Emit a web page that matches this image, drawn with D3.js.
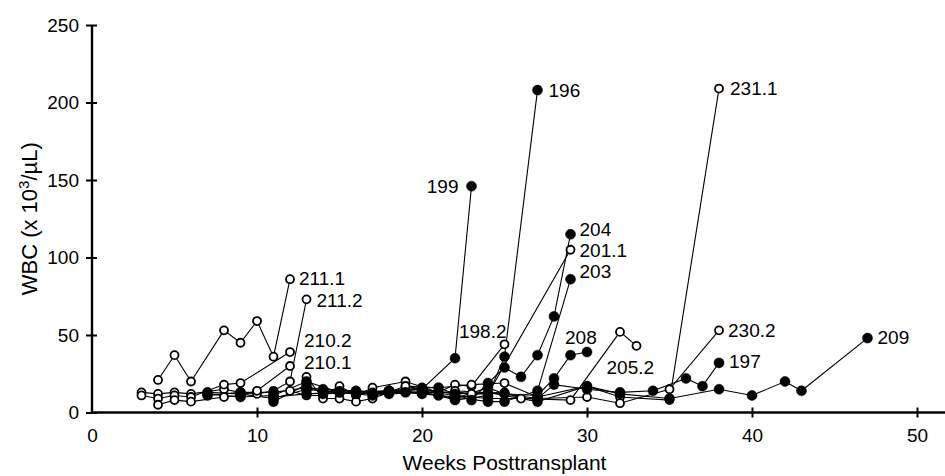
<!DOCTYPE html>
<html>
<head>
<meta charset="utf-8">
<style>
  body { margin: 0; background: #fff; }
  svg { display: block; font-family: "Liberation Sans", Arial, Helvetica, sans-serif; }
  .series path { stroke: black; stroke-width: 1.1; fill: none; }
</style>
<title>WBC by week posttransplant</title>
</head>
<body>
<script src="https://cdn.jsdelivr.net/npm/d3@7/dist/d3.min.js"></script>
<script>

// weeks posttransplant, WBC (x 10^3/uL)  -- open circles
var p211_1 = [[4,21],[5,37],[6,20],[8,53],[9,45],[10,59],[11,36],[12,86]];
var p211_2 = [[3,13],[4,12],[5,13],[6,12],[8,15],[9,13],[10,12],[11,14],[12,20],[13,73]];
var p210_2 = [[3,11],[4,9],[5,11],[6,10],[8,18],[9,19],[12,39]];
var p210_1 = [[4,5],[5,8],[6,7],[8,10],[9,11],[10,14],[12,30]];
var p198_2 = [[12,14],[13,11],[14,11],[15,17],[16,11],[17,16],[19,20],[21,13],[22,18],[23,17],[25,44]];
var p201_1 = [[13,23],[14,9],[15,9],[16,7],[17,9],[19,17],[21,13],[22,13],[23,12],[24,12],[29,105]];
var p205_2 = [[15,14],[17,13],[19,13],[22,13],[23,12],[25,13],[26,9],[29,8],[32,52],[33,43]];
var p231_1 = [[19,17],[21,16],[23,18],[25,19],[27,10],[30,17],[32,10],[35,8],[38,209]];
var p230_2 = [[22,14],[25,12],[27,9],[30,10],[32,6],[35,15],[38,53]];
// filled circles
var p199 = [[7,13],[9,12],[11,9],[13,15],[14,14],[16,13],[18,14],[20,15],[22,35],[23,146]];
var p196 = [[7,12],[9,10],[11,11],[13,20],[15,13],[17,11],[18,12],[20,13],[21,11],[22,8],[24,11],[25,36],[27,208]];
var p204 = [[11,7],[13,18],[14,12],[16,13],[18,14],[20,16],[21,16],[23,8],[24,19],[25,29],[26,23],[27,37],[28,62],[29,115]];
var p203 = [[11,10],[13,12],[15,13],[17,12],[19,13],[20,12],[22,10],[24,7],[25,7],[27,14],[29,86]];
var p208 = [[13,15],[14,14],[16,12],[18,14],[20,13],[22,9],[24,16],[25,12],[27,11],[28,22],[29,37],[30,39]];
var p197 = [[20,14],[22,11],[24,9],[27,9],[28,18],[30,15],[32,13],[34,14],[36,22],[37,17],[38,32]];
var p209 = [[7,11],[9,13],[11,13],[13,16],[14,15],[16,14],[18,13],[20,15],[22,12],[24,13],[27,7],[30,17],[32,12],[35,9],[38,15],[40,11],[42,20],[43,14],[47,48]];

var seriesIds  = ["211.1","211.2","210.2","210.1","198.2","201.1","205.2","231.1","230.2",
                  "199","196","204","203","208","197","209"];
var seriesPts  = [p211_1,p211_2,p210_2,p210_1,p198_2,p201_1,p205_2,p231_1,p230_2,
                  p199,p196,p204,p203,p208,p197,p209];
var seriesFill = [false,false,false,false,false,false,false,false,false,
                  true,true,true,true,true,true,true];

var xTicks = [0, 10, 20, 30, 40, 50];
var yTicks = [0, 50, 100, 150, 200, 250];

// label placement next to each series' last point (pixels)
var labelPos = {
  "211.1": [9, -1, "start"],  "211.2": [10, 1, "start"],
  "210.2": [14, -12, "start"], "210.1": [14, -4, "start"],
  "198.2": [2, -13, "end"],   "201.1": [9, 1, "start"],
  "205.2": [-30, 21, "start"], "231.1": [11, 0, "start"],
  "230.2": [9, 0, "start"],   "199":   [-13, 0, "end"],
  "196":   [11, 0, "start"],  "204":   [9, -5, "start"],
  "203":   [9, -8, "start"],  "208":   [-22, -15, "start"],
  "197":   [10, -2, "start"], "209":   [10, -1, "start"]
};

var W = 945, H = 476;
var x = d3.scaleLinear().domain([0, 50]).range([92, 917]);
var y = d3.scaleLinear().domain([0, 250]).range([412.5, 25]);

var svg = d3.select("body").append("svg")
    .attr("width", W)
    .attr("height", H);

var data = seriesIds.map(function(id, i) {
  return {id: id, filled: seriesFill[i], pts: seriesPts[i]};
});

// axes
var yAxis = svg.append("g")
    .attr("transform", "translate(" + x(0) + ",0)")
    .call(d3.axisLeft(y).tickValues(yTicks).tickSize(6).tickPadding(7));
yAxis.selectAll(".tick line").attr("x2", 5).attr("x1", -6);
yAxis.select(".domain").attr("d", "M0," + y(250) + "V" + y(0));

var xAxis = svg.append("g")
    .attr("transform", "translate(0," + y(0) + ")")
    .call(d3.axisBottom(x).tickValues(xTicks).tickSize(6).tickPadding(10));
xAxis.selectAll(".tick line").attr("y1", -5).attr("y2", 5);
xAxis.select(".domain").attr("d", "M" + x(0) + ",0H" + W);

svg.selectAll(".domain").attr("stroke", "black").attr("stroke-width", 2.4);
svg.selectAll(".tick line").attr("stroke", "black").attr("stroke-width", 2);
svg.selectAll(".tick text").attr("font-size", 19).attr("fill", "black")
    .attr("font-family", "'Liberation Sans', Arial, sans-serif");
xAxis.selectAll(".tick").filter(function(d) { return d === 0; }).select("line").remove();

// axis titles
svg.append("text")
    .attr("x", (x(0) + x(50)) / 2)
    .attr("y", 470)
    .attr("text-anchor", "middle")
    .attr("font-size", 21)
    .text("Weeks Posttransplant");

var yt = svg.append("text")
    .attr("transform", "translate(37," + ((y(0) + y(250)) / 2) + ") rotate(-90)")
    .attr("text-anchor", "middle")
    .attr("font-size", 22);
yt.append("tspan").text("WBC (x 10");
yt.append("tspan").attr("font-size", 15).attr("dy", -8).text("3");
yt.append("tspan").attr("dy", 8).text("/\u00B5L)");

// lines
var line = d3.line()
    .x(function(d) { return x(d[0]); })
    .y(function(d) { return y(d[1]); });

var g = svg.selectAll(".series")
    .data(data)
    .enter().append("g")
    .attr("class", "series");

g.append("path").attr("d", function(d) { return line(d.pts); });

// markers drawn after all lines
data.forEach(function(s) {
  svg.append("g").selectAll("circle")
      .data(s.pts)
      .enter().append("circle")
      .attr("cx", function(d) { return x(d[0]); })
      .attr("cy", function(d) { return y(d[1]); })
      .attr("r", s.filled ? 5 : 4)
      .attr("fill", s.filled ? "black" : "white")
      .attr("stroke", "black")
      .attr("stroke-width", s.filled ? 0.5 : 1.8);
});

// series labels
data.forEach(function(s) {
  var last = s.pts[s.pts.length - 1];
  var lp = labelPos[s.id];
  svg.append("text")
      .attr("x", x(last[0]) + lp[0])
      .attr("y", y(last[1]) + lp[1])
      .attr("dy", "0.35em")
      .attr("text-anchor", lp[2])
      .attr("font-size", 19)
      .text(s.id);
});

</script>
</body>
</html>
